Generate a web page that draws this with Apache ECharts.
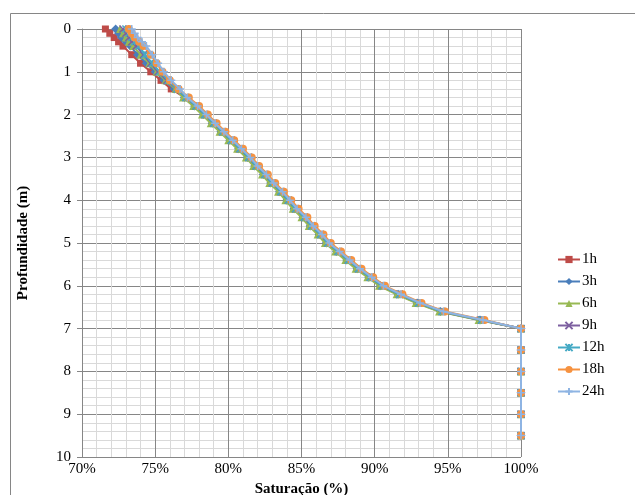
<!DOCTYPE html>
<html><head><meta charset="utf-8">
<script src="https://cdn.jsdelivr.net/npm/echarts@6/dist/echarts.min.js"></script>
<style>html,body{margin:0;padding:0;background:#fff}#c{width:635px;height:495px}</style>
</head><body><div id="c"></div>
<script>
const depths = [0,0.1,0.2,0.3,0.4,0.6,0.8,1.0,1.2,1.4,1.6,1.8,2.0,2.2,2.4,2.6,2.8,3.0,3.2,3.4,3.6,3.8,4.0,4.2,4.4,4.6,4.8,5.0,5.2,5.4,5.6,5.8,6.0,6.2,6.4,6.6,6.8,7.0,7.5,8.0,8.5,9.0,9.5];
const seriesNames = ['1h','3h','6h','9h','12h','18h','24h'];
const sat1h  = [71.6,71.9,72.2,72.5,72.8,73.4,74.0,74.7,75.4,76.1,77.0,77.7,78.3,78.9,79.5,80.1,80.7,81.3,81.8,82.4,82.9,83.5,84.0,84.5,85.1,85.6,86.2,86.7,87.4,88.1,88.8,89.6,90.4,91.6,92.9,94.5,97.2,100,100,100,100,100,100];
const sat3h  = [72.3,72.5,72.7,73.0,73.3,73.8,74.4,75.0,75.6,76.3,77.0,77.7,78.3,78.9,79.5,80.1,80.7,81.3,81.8,82.4,82.9,83.5,84.0,84.5,85.1,85.6,86.2,86.7,87.4,88.1,88.8,89.6,90.4,91.6,92.9,94.5,97.2,100,100,100,100,100,100];
const sat6h  = [72.6,72.8,73.0,73.2,73.5,74.0,74.6,75.1,75.7,76.4,76.9,77.6,78.2,78.8,79.4,80.0,80.6,81.2,81.7,82.3,82.8,83.4,83.9,84.4,85.0,85.5,86.1,86.6,87.3,88.0,88.7,89.5,90.3,91.5,92.8,94.4,97.1,100,100,100,100,100,100];
const sat9h  = [72.8,73.0,73.2,73.4,73.7,74.2,74.7,75.2,75.8,76.5,77.1,77.8,78.4,79.0,79.6,80.2,80.8,81.4,81.9,82.5,83.0,83.6,84.1,84.6,85.2,85.7,86.3,86.8,87.5,88.2,88.9,89.7,90.5,91.7,93.0,94.6,97.3,100,100,100,100,100,100];
const sat12h = [73.0,73.2,73.4,73.6,73.9,74.3,74.8,75.3,75.9,76.5,77.1,77.8,78.4,79.0,79.6,80.2,80.8,81.4,81.9,82.5,83.0,83.6,84.1,84.6,85.2,85.7,86.3,86.8,87.5,88.2,88.9,89.7,90.5,91.7,93.0,94.6,97.3,100,100,100,100,100,100];
const sat18h = [73.2,73.4,73.6,73.9,74.2,74.7,75.1,75.5,76.0,76.6,77.3,78.0,78.6,79.2,79.8,80.4,81.0,81.6,82.1,82.7,83.2,83.8,84.3,84.8,85.4,85.9,86.5,87.0,87.7,88.4,89.1,89.9,90.7,91.9,93.2,94.8,97.5,100,100,100,100,100,100];
const sat24h = [73.4,73.6,73.8,74.1,74.4,74.8,75.2,75.6,76.1,76.7,77.2,77.9,78.5,79.1,79.7,80.3,80.9,81.5,82.0,82.6,83.1,83.7,84.2,84.7,85.3,85.8,86.4,86.9,87.6,88.3,89.0,89.8,90.6,91.8,93.1,94.7,97.4,100,100,100,100,100,100];
const xTicks = [70,75,80,85,90,95,100];
const yTicks = [0,1,2,3,4,5,6,7,8,9,10];

const allSat = [sat1h,sat3h,sat6h,sat9h,sat12h,sat18h,sat24h];
const colors = ['#BE4B48','#4A7EBB','#98B954','#7D60A0','#46AAC5','#F69240','#8EB4E3'];
const symbols = [
  'rect','diamond','triangle',
  'path://M0,0L10,10M10,0L0,10',
  'path://M0,0L10,10M10,0L0,10M5,0L5,10',
  'circle',
  'path://M5,0L5,10M0,5L10,5'
];
const sizes = [7,9,8,7,7,8,8];
const stroked = [false,false,false,true,true,false,true];

const FONT = '"Liberation Serif","Times New Roman",serif';
const chart = echarts.init(document.getElementById('c'));
const series = seriesNames.map((n,i)=>({
  name:n, type:'line',
  data: depths.map((d,j)=>[allSat[i][j], d]),
  symbol: symbols[i], symbolSize: sizes[i], showSymbol:true,
  lineStyle:{color:colors[i], width:2},
  itemStyle: stroked[i] ? {color:colors[i], borderColor:colors[i], borderWidth:1.5} : {color:colors[i], borderWidth:0},
  animation:false, z:2+i
}));

chart.setOption({
  animation:false,
  backgroundColor:'#fff',
  graphic:[{type:'rect', shape:{x:10.5,y:13.5,width:700,height:600}, style:{fill:'none', stroke:'#868686', lineWidth:1}, z:-10}],
  grid:{left:82, right:114, top:29, bottom:38, outerBoundsMode:'none', containLabel:false},
  legend:{
    orient:'vertical', left:552, top:247, itemGap:7, itemWidth:22, itemHeight:9,
    textStyle:{fontFamily:FONT, fontSize:15, color:'#000', padding:[0,0,0,-3]},
    data:seriesNames
  },
  xAxis:{
    type:'value', min:70, max:100, interval:5,
    name:'Saturação (%)', nameLocation:'middle', nameGap:23,
    nameTextStyle:{fontFamily:FONT, fontSize:15, fontWeight:'bold', color:'#000'},
    axisLine:{show:true, lineStyle:{color:'#868686'}},
    axisTick:{show:true, length:5, inside:false, lineStyle:{color:'#868686'}},
    axisLabel:{fontFamily:FONT, fontSize:15, color:'#000', margin:5, formatter:'{value}%'},
    splitLine:{show:true, lineStyle:{color:'#868686', width:1}},
    minorTick:{show:false, splitNumber:5},
    minorSplitLine:{show:true, lineStyle:{color:'#D9D9D9', width:1}}
  },
  yAxis:{
    type:'value', min:0, max:10, interval:1, inverse:true,
    name:'Profundidade (m)', nameLocation:'middle', nameGap:51, nameRotate:90,
    nameTextStyle:{fontFamily:FONT, fontSize:15, fontWeight:'bold', color:'#000'},
    axisLine:{show:true, lineStyle:{color:'#868686'}},
    axisTick:{show:true, length:5, lineStyle:{color:'#868686'}},
    axisLabel:{fontFamily:FONT, fontSize:15, color:'#000', margin:11},
    splitLine:{show:true, lineStyle:{color:'#868686', width:1}},
    minorTick:{show:false, splitNumber:5},
    minorSplitLine:{show:true, lineStyle:{color:'#D9D9D9', width:1}}
  },
  series:series
});
</script></body></html>
